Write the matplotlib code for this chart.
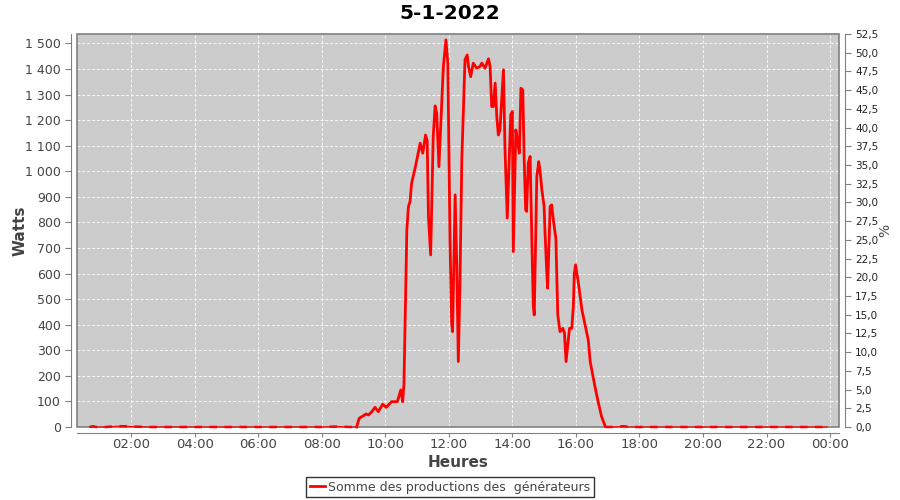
"""Daily production curve for 5-1-2022 (Watts over the day)."""

import matplotlib

matplotlib.use("Agg")
import matplotlib.pyplot as plt
from matplotlib.patches import Rectangle
from matplotlib.ticker import FixedLocator, FuncFormatter, MultipleLocator

title = "5-1-2022"
series_label = "Somme des productions des  générateurs"

# night readings (hour of day, watts)
night_am_hours = [0.70, 0.80, 0.90, 1.20, 1.56, 1.80, 2.5, 3.5, 4.5, 5.5, 6.5,
                  7.5, 8.0, 8.5, 8.9, 9.10]
night_am_watts = [0, 3, 0, 0, 3, 3, 0, 0, 0, 0, 0, 0, 0, 2, 0, 0]

# daytime readings
day_hours = [9.18, 9.26, 9.40, 9.47, 9.58, 9.68, 9.78, 9.92, 10.03, 10.20,
             10.38, 10.49, 10.55, 10.59, 10.68, 10.73, 10.78, 10.83, 10.94,
             11.10, 11.18, 11.27, 11.32, 11.36, 11.43, 11.51, 11.57, 11.62,
             11.69, 11.78, 11.83, 11.91, 11.97, 12.04, 12.09, 12.12, 12.20,
             12.25, 12.30, 12.35, 12.41, 12.51, 12.58, 12.62, 12.69, 12.77,
             12.88, 12.98, 13.04, 13.14, 13.25, 13.30, 13.35, 13.40, 13.46,
             13.51, 13.56, 13.61, 13.72, 13.77, 13.84, 13.95, 14.00, 14.03,
             14.11, 14.16, 14.22, 14.27, 14.33, 14.37, 14.42, 14.45, 14.50,
             14.56, 14.62, 14.66, 14.69, 14.77, 14.83, 14.87, 14.93, 15.00,
             15.03, 15.08, 15.11, 15.19, 15.24, 15.29, 15.37, 15.43, 15.50,
             15.59, 15.64, 15.69, 15.76, 15.80, 15.87, 15.92, 15.95, 15.99,
             16.08, 16.19, 16.29, 16.39, 16.45, 16.60, 16.71, 16.81, 16.92]
day_watts = [34, 40, 51, 47, 60, 77, 60, 89, 77, 99,
             99, 145, 99, 171, 771, 862, 881, 953, 1012,
             1110, 1071, 1142, 1120, 823, 673, 1136, 1256, 1227,
             1018, 1273, 1410, 1514, 1424, 720, 406, 373, 908,
             641, 256, 549, 1045, 1436, 1455, 1410, 1370, 1423,
             1403, 1410, 1423, 1403, 1440, 1410, 1253, 1253, 1345,
             1214, 1142, 1162, 1397, 1084, 817, 1221, 1234, 686,
             1162, 1123, 1071, 1325, 1318, 1058, 849, 843, 1032,
             1058, 693, 471, 438, 979, 1038, 1005, 927, 862,
             758, 614, 543, 862, 869, 810, 738, 438, 373,
             386, 367, 256, 340, 386, 386, 471, 601, 634,
             562, 458, 399, 340, 256, 158, 93, 40, 4]

night_pm_hours = [16.92, 17.2, 17.5, 17.7, 18.0, 18.5, 19.0, 19.5, 20.0, 20.5,
                  21.0, 21.5, 22.0, 22.5, 23.0, 23.5, 23.9]
night_pm_watts = [0, 0, 3, 0, 0, 0, 0, 0, 0, 0, 0, 0, 0, 0, 0, 0, 0]

x_ticks = [2, 4, 6, 8, 10, 12, 14, 16, 18, 20, 22, 24]
x_labels = ["02:00", "04:00", "06:00", "08:00", "10:00", "12:00",
            "14:00", "16:00", "18:00", "20:00", "22:00", "00:00"]

plt.rcParams["font.family"] = ["DejaVu Sans"]
text_grey = "#444444"
axis_grey = "#808080"

fig = plt.figure(figsize=(9, 5), dpi=100)
ax = fig.add_axes([77 / 900, 1 - 427 / 500, 762 / 900, 393 / 500])
ax.set_facecolor("#cccccc")

red = "#ff0000"
for hrs, w in ((night_am_hours, night_am_watts), (night_pm_hours, night_pm_watts)):
    ax.plot(hrs, w, color=red, lw=0.8, zorder=6, clip_on=False)
    ax.plot(hrs, w, color=red, lw=1.8, ls=(0, (3, 3)), zorder=6, clip_on=False)
all_day_h = [night_am_hours[-1]] + day_hours
all_day_w = [night_am_watts[-1]] + day_watts
(line,) = ax.plot(all_day_h, all_day_w, color=red, lw=2, zorder=6,
                  solid_joinstyle="round", clip_on=False)

ax.set_xlim(0.3, 24.28)
ax.set_ylim(0, 1537)
ax.xaxis.set_major_locator(FixedLocator(x_ticks))
ax.set_xticklabels(x_labels)
ax.yaxis.set_major_locator(MultipleLocator(100))
ax.yaxis.set_major_formatter(
    FuncFormatter(lambda v, _: f"{int(round(v)):,}".replace(",", " ")))
ax.grid(True, color="white", ls=(0, (3, 2)), lw=0.7, alpha=0.85)
ax.set_axisbelow(True)

for side in ("top", "right"):
    ax.spines[side].set_visible(False)
for side in ("left", "bottom"):
    ax.spines[side].set_position(("outward", 4))
    ax.spines[side].set_color(axis_grey)
ax.add_patch(Rectangle((0, 0), 1, 1, transform=ax.transAxes, fill=False,
                       edgecolor=axis_grey, lw=1.2, zorder=5, clip_on=False))
ax.tick_params(colors=axis_grey, labelcolor=text_grey, labelsize=9, length=4)
ax.tick_params(axis="x", labelsize=9.5, length=3, pad=1)

ax2 = ax.twinx()
ax2.set_ylim(0, 52.5)
ax2.yaxis.set_major_locator(MultipleLocator(2.5))
ax2.yaxis.set_major_formatter(FuncFormatter(lambda v, _: f"{v:.1f}".replace(".", ",")))
for side in ("top", "left", "bottom"):
    ax2.spines[side].set_visible(False)
ax2.spines["right"].set_position(("outward", 4))
ax2.spines["right"].set_color(axis_grey)
ax2.tick_params(colors=axis_grey, labelcolor="#222222", labelsize=7.5, length=4)
ax2.set_ylabel("%", fontsize=10, color=text_grey)
ax2.yaxis.set_label_coords((878 - 77) / 762, 0.5)

ax.set_ylabel("Watts", fontsize=11, fontweight="bold", color=text_grey)
ax.yaxis.set_label_coords((28 - 77) / 762, 0.5)
ax.set_xlabel("Heures", fontsize=11, fontweight="bold", color=text_grey)
ax.xaxis.set_label_coords(0.5, (427 - 455) / 393)
fig.suptitle(title, fontsize=14.5, fontweight="bold", y=0.992)

leg = fig.legend([line], [series_label], loc="center",
                 bbox_to_anchor=(450 / 900, 1 - 487 / 500), fontsize=9,
                 frameon=True, fancybox=False, handlelength=1.2,
                 handletextpad=0.3, borderpad=0.25, borderaxespad=0)
leg.get_frame().set_edgecolor("black")
leg.get_frame().set_linewidth(1)
for t in leg.get_texts():
    t.set_color(text_grey)

fig.savefig("out.png", dpi=100)
